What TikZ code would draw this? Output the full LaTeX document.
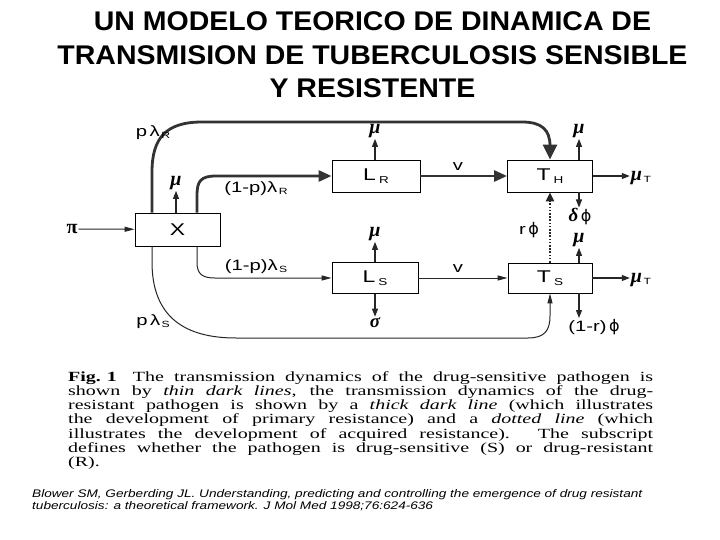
\documentclass[tikz,border=0pt]{standalone}
\usepackage{fontspec}
\setmainfont{Liberation Serif}
\setsansfont{Liberation Sans}
\newfontfamily\labfont[FakeStretch=1.35]{Liberation Sans}
\newfontfamily\grk{Liberation Serif}
\newfontfamily\phifont{DejaVu Sans}
\usepackage{graphicx}
\usetikzlibrary{arrows.meta}
\newcommand{\sbx}[1]{\hspace{3pt}\raisebox{-3pt}{\fontsize{10}{10}\selectfont #1}}
\newcommand{\sbl}[1]{\hspace{1.5pt}\raisebox{-2pt}{\fontsize{9}{9}\selectfont #1}}
\newcommand{\gmu}{{\grk\bfseries\itshape\fontsize{20}{20}\selectfont μ}}
\newcommand{\gdelta}{{\grk\bfseries\itshape\fontsize{19}{19}\selectfont δ}}
\newcommand{\gsigma}{{\grk\bfseries\itshape\fontsize{19}{19}\selectfont σ}}
\newcommand{\gpi}{{\grk\bfseries\fontsize{20}{20}\selectfont π}}
\newcommand{\gphi}{{\phifont\fontsize{16}{16}\selectfont ϕ}}
\tikzset{
  box/.style={draw=black, line width=0.9pt, minimum width=85pt, minimum height=32pt, inner sep=0pt, font=\labfont\fontsize{17}{17}\selectfont},
  lab/.style={inner sep=1pt, font=\labfont\fontsize{15}{15}\selectfont},
  thickflow/.style={line width=2.8pt, draw=black!80, -{Triangle[length=13pt,width=11pt]}},
  thinflow/.style={line width=1pt, draw=black!85, -{Triangle[length=10pt,width=5pt]}},
  outflow/.style={line width=1.1pt, draw=black!85, -{Triangle[length=8pt,width=6pt]}},
  dotflow/.style={line width=2.4pt, draw=black!85, dash pattern=on 1.6pt off 1.6pt, -{Triangle[length=9pt,width=8pt]}}
}
\begin{document}
\begin{tikzpicture}[x=1pt,y=-1pt]
\useasboundingbox (0,0) rectangle (720,540);
\fill[white] (0,0) rectangle (720,540);

% title
\node[anchor=base, inner sep=0pt] (title) at (372.5,31) {\resizebox{630pt}{\height}{\fontsize{27}{33.3}\selectfont\sffamily\bfseries\begin{tabular}[t]{@{}c@{}}UN MODELO TEORICO DE DINAMICA DE\\TRANSMISION DE TUBERCULOSIS SENSIBLE\\Y RESISTENTE\end{tabular}}};

% boxes
\node[box, minimum height=33pt] (X) at (177.5,229.5) {X};
\node[box, minimum width=88pt] (LR) at (376,176) {L\sbx{R}};
\node[box] (TR) at (550,176) {T\sbx{H}};
\node[box, minimum width=86pt, minimum height=31pt] (LS) at (375,278) {L\sbx{S}};
\node[box, minimum width=84pt, minimum height=30pt] (TS) at (550,278) {T\sbx{S}};

% inflow
\node[lab] (pi) at (72,229) {\gpi};
\draw[thinflow] (pi) -- (X);

% thick (primary resistance)
\draw[thickflow, -{Triangle[length=15pt,width=14pt]}] ([xshift=-25.5pt]X.north) -- (152,172) .. controls (152,138) and (166,122) .. (202,122) -- (522,122) .. controls (542,122) and (550,130) .. (550,146) -- (TR.north);
\draw[thickflow] ([xshift=19.5pt]X.north) -- (197,195) .. controls (197,181) and (201,176) .. (216,176) -- (LR.west);
\draw[thickflow] (LR) -- (TR);

% thin (sensitive)
\draw[thinflow] ([xshift=19.5pt]X.south) -- (197,262) .. controls (197,274) and (202,278) .. (215,278) -- (LS.west);
\draw[thinflow] ([xshift=-25.5pt]X.south) -- (152,262) .. controls (152,318) and (186,338) .. (236,338) -- (528,338) .. controls (545,338) and (550,330) .. (550,316) -- (TS.south);
\draw[thinflow] (LS) -- (TS);

% dotted (acquired resistance)
\draw[dotflow] (TS.north) -- (TR.south);

% labels on flows
\node[lab] (lpR) at (153,133) {p\,λ\sbl{R}};
\node[lab] (l1pR) at (256,189) {(1-p)λ\sbl{R}};
\node[lab] (l1pS) at (256,267) {(1-p)λ\sbl{S}};
\node[lab] (lpS) at (153,322) {p\,λ\sbl{S}};
\node[lab] (v1) at (458,167) {v};
\node[lab] (v2) at (458,269) {v};
\node[lab] (rphi) at (529,230) {r\,\gphi};

% outflows
\node[lab] (muX) at (176,183) {\gmu};
\draw[outflow] (X.north -| muX) -- (muX);
\node[lab] (muLR) at (375,131) {\gmu};
\draw[outflow] (LR.north -| muLR) -- (muLR);
\node[lab] (muTR) at (579,131) {\gmu};
\draw[outflow] (TR.north -| muTR) -- (muTR);
\node[lab] (muLS) at (375,234) {\gmu};
\draw[outflow] (LS.north -| muLS) -- (muLS);
\node[lab] (muTS) at (579,240) {\gmu};
\draw[outflow] (TS.north -| muTS) -- (muTS);
\node[lab] (dphi) at (580,217) {\gdelta\,\gphi};
\draw[outflow] (TR.south -| muTR) -- (muTR |- dphi.north);
\node[lab] (sig) at (375,323) {\gsigma};
\draw[outflow] (LS.south -| sig) -- (sig);
\node[lab] (omr) at (594,327) {(1-r)\,\gphi};
\draw[outflow] (TS.south -| muTS) -- (muTS |- omr.north);
\node[lab] (muTTR) at (641,178) {\gmu\sbl{T}};
\draw[outflow] (TR.east) -- (TR.east -| muTTR.west);
\node[lab] (muTTS) at (641,280) {\gmu\sbl{T}};
\draw[outflow] (TS.east) -- (TS.east -| muTTS.west);

% caption
\node[anchor=base west, inner sep=0pt] (cap) at (68,381) {\resizebox{585pt}{\height}{\fontsize{14}{14.33}\selectfont\rmfamily\begin{tabular}[t]{@{}l@{}}
\makebox[410pt][s]{\textbf{Fig.\hspace{0.3em}1}\hspace{0.8em}The transmission dynamics of the drug-sensitive pathogen is}\\
\makebox[410pt][s]{shown by \textit{thin dark lines}, the transmission dynamics of the drug-}\\
\makebox[410pt][s]{resistant pathogen is shown by a \textit{thick dark line} (which illustrates}\\
\makebox[410pt][s]{the development of primary resistance) and a \textit{dotted line} (which}\\
\makebox[410pt][s]{illustrates the development of acquired resistance). The subscript}\\
\makebox[410pt][s]{defines whether the pathogen is drug-sensitive (S) or drug-resistant}\\
(R).
\end{tabular}}};

% citation
\node[anchor=base west, inner sep=0pt] (cite) at (32,497) {\resizebox{610pt}{\height}{\fontsize{11}{12.8}\selectfont\sffamily\itshape\begin{tabular}[t]{@{}l@{}}Blower SM, Gerberding JL. Understanding, predicting and controlling the emergence of drug resistant\\tuberculosis: a theoretical framework. J Mol Med 1998;76:624-636\end{tabular}}};
\end{tikzpicture}
\end{document}
